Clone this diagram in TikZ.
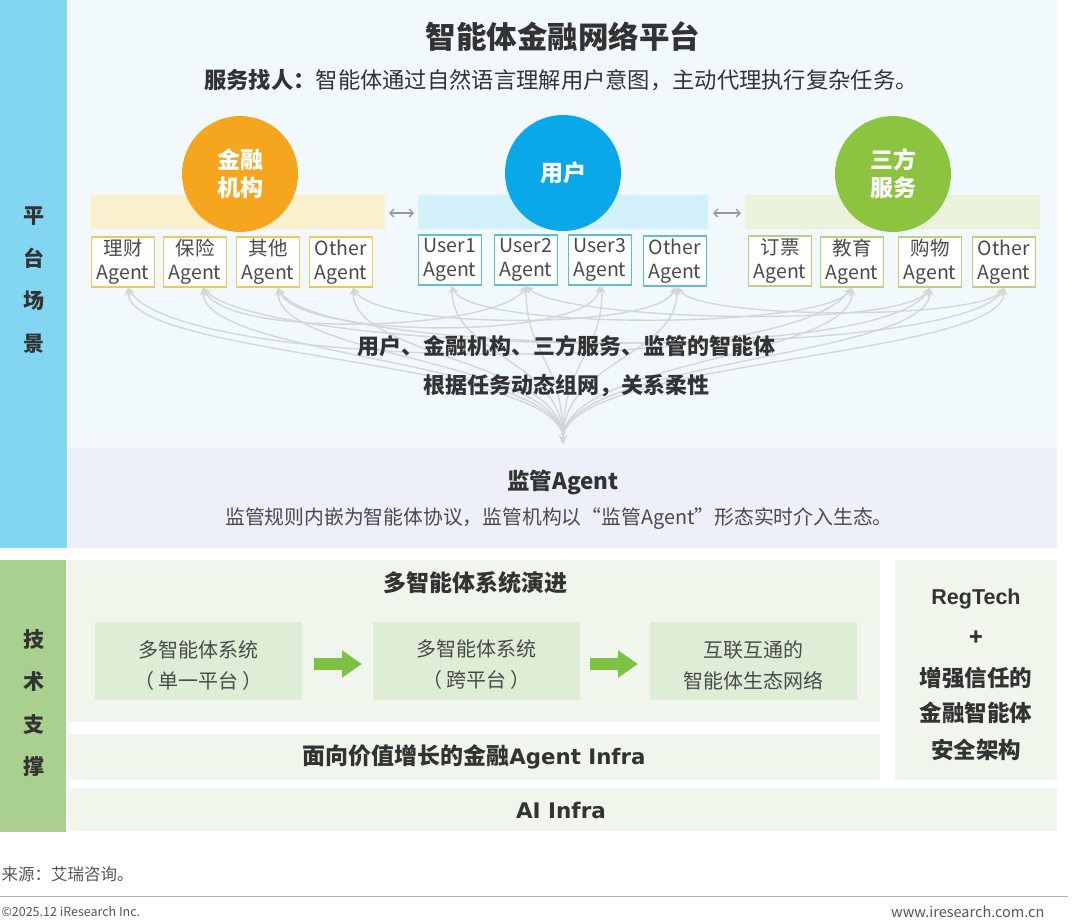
\documentclass[tikz,border=0pt]{standalone}
\usepackage{fontspec}
\setmainfont{Noto Sans CJK SC}
\newfontfamily\dvs{DejaVu Sans}
\newfontfamily\lib{Liberation Sans}
\usetikzlibrary{arrows.meta}
\definecolor{sideblue}{HTML}{82D6F2}
\definecolor{platbg}{HTML}{F2F9FC}
\definecolor{lavender}{HTML}{EDF0F8}
\definecolor{sidegreen}{HTML}{A9D08E}
\definecolor{panelgreen}{HTML}{F0F6EC}
\definecolor{innergreen}{HTML}{DDEDD6}
\definecolor{txtdark}{HTML}{333333}
\definecolor{txtgray}{HTML}{4A4A4A}
\definecolor{corange}{HTML}{F6A61E}
\definecolor{cblue}{HTML}{0AA8E8}
\definecolor{cgreen}{HTML}{8CC43F}
\definecolor{bandorange}{HTML}{FBF1CE}
\definecolor{bandblue}{HTML}{D3F1FB}
\definecolor{bandgreen}{HTML}{EBF2DC}
\definecolor{borange}{HTML}{F0C955}
\definecolor{bblue}{HTML}{5CC0D2}
\definecolor{bgreen}{HTML}{B8D47A}
\definecolor{curvegray}{HTML}{D4D6D8}
\definecolor{arrowgreen}{HTML}{7DC242}
\definecolor{footgray}{HTML}{555555}
\tikzset{
  agentbox/.style={draw, line width=1.3pt, fill=white, minimum width=63pt, minimum height=50pt,
    inner sep=0pt, align=center, text=txtgray, font=\fontsize{19.5}{24}\selectfont},
  circ/.style={circle, minimum size=116pt, inner sep=0pt, text=white, align=center,
    font=\bfseries\fontsize{23}{28}\selectfont},
  flow/.style={draw=curvegray, line width=1.4pt, {Stealth[length=8pt,width=7pt]}-{Stealth[length=8pt,width=7pt]}},
  xarc/.style={draw=curvegray, line width=1.4pt, {Stealth[length=8pt,width=7pt]}-{Stealth[length=8pt,width=7pt]}},
  sidetxt/.style={align=center, text=txtdark, font=\bfseries\fontsize{21}{42.5}\selectfont},
  stagebox/.style={fill=innergreen, minimum width=207pt, minimum height=78pt, inner sep=0pt},
  stagetxt/.style={align=center, text=txtgray, font=\fontsize{20}{31}\selectfont},
  garrow/.style={draw=arrowgreen, line width=12pt, -{Triangle[length=20pt,width=26pt]}},
  darr/.style={draw=gray!80, line width=1.3pt, {Straight Barb[length=4pt]}-{Straight Barb[length=4pt]}},
  bigbold/.style={text=txtdark, font=\bfseries\fontsize{22}{26}\selectfont},
  regtxt/.style={text=txtdark, font=\bfseries\fontsize{22.5}{26}\selectfont},
}
\begin{document}
\begin{tikzpicture}[x=1pt,y=-1pt]
\useasboundingbox (0,0) rectangle (1080,922);
\fill[white] (0,0) rectangle (1080,922);
% platform background
\fill[sideblue] (0,0) rectangle (67,548);
\fill[platbg] (68,0) rectangle (1057,448);
\fill[lavender] (68,448) rectangle (1057,548);
% tech support backgrounds
\fill[sidegreen] (0,560) rectangle (66,832);
\fill[panelgreen] (68,560) rectangle (880,722);
\fill[panelgreen] (68,734) rectangle (880,780);
\fill[panelgreen] (895,560) rectangle (1057,780);
\fill[panelgreen] (68,788) rectangle (1057,831);

\node[sidetxt] (side1) at (34,280) {平\\台\\场\\景};
\node[sidetxt] (side2) at (34,703) {技\\术\\支\\撑};

% titles
\node[text=txtdark, font=\bfseries\fontsize{30.5}{34}\selectfont] (title) at (563,37) {智能体金融网络平台};
\node[text=txtdark, font=\fontsize{22.3}{26}\selectfont] (subtitle) at (561,80) {\textbf{服务找人：}智能体通过自然语言理解用户意图，主动代理执行复杂任务。};

% bands
\fill[bandorange] (90,195) rectangle (385,229);
\fill[bandblue] (418,195) rectangle (708,229);
\fill[bandgreen] (745,195) rectangle (1040,229);

\node[circ, fill=corange] (fin) at (240,174) {金融\\机构};
\node[circ, fill=cblue] (user) at (563,173) {用户};
\node[circ, fill=cgreen] (third) at (893,174) {三方\\服务};

\coordinate (da1) at (389,213);
\coordinate (db1) at (414,213);
\coordinate (da2) at (713,213);
\coordinate (db2) at (741,213);
\draw[darr] (da1) -- (db1);
\draw[darr] (da2) -- (db2);

% agent boxes
\node[agentbox, draw=borange] (a1) at (123,262) {理财\\Agent};
\node[agentbox, draw=borange] (a2) at (195,262) {保险\\Agent};
\node[agentbox, draw=borange] (a3) at (268,262) {其他\\Agent};
\node[agentbox, draw=borange] (a4) at (341,262) {Other\\Agent};
\node[agentbox, draw=bblue] (u1) at (450,260) {User1\\Agent};
\node[agentbox, draw=bblue] (u2) at (526,260) {User2\\Agent};
\node[agentbox, draw=bblue] (u3) at (600,260) {User3\\Agent};
\node[agentbox, draw=bblue] (u4) at (675,261) {Other\\Agent};
\node[agentbox, draw=bgreen] (s1) at (780,261) {订票\\Agent};
\node[agentbox, draw=bgreen] (s2) at (852,262) {教育\\Agent};
\node[agentbox, draw=bgreen] (s3) at (930,262) {购物\\Agent};
\node[agentbox, draw=bgreen] (s4) at (1004,262) {Other\\Agent};

% curves
\coordinate (hub) at (563,444);
\foreach \b/\dx in {a1/5,a2/8,a3/10,a4/12,u1/2,u2/0,u3/2,u4/2,s2/0,s3/0,s4/0}{
  \draw[flow] ([xshift=\dx pt]\b.south) .. controls ([xshift=\dx pt,yshift=-70pt]\b.south) and (563,360) .. (hub);
}
\draw[xarc] ([xshift=5pt]a1.south) .. controls (180,370) and (780,380) .. (s2.south);
\draw[xarc] ([xshift=8pt]a2.south) .. controls (230,340) and (500,330) .. (u2.south);
\draw[xarc] ([xshift=8pt]a2.south) .. controls (260,350) and (880,370) .. (s3.south);
\draw[xarc] ([xshift=10pt]a3.south) .. controls (300,340) and (590,340) .. (u3.south);
\draw[xarc] ([xshift=10pt]a3.south) .. controls (320,360) and (960,360) .. (s4.south);
\draw[xarc] ([xshift=12pt]a4.south) .. controls (380,330) and (660,330) .. (u4.south);
\draw[xarc] ([xshift=2pt]u1.south) .. controls (470,330) and (820,330) .. (s2.south);
\draw[xarc] (u2.south) .. controls (560,320) and (900,330) .. (s3.south);
\draw[xarc] ([xshift=2pt]u4.south) .. controls (700,320) and (980,320) .. (s4.south);

\node[bigbold] (net1) at (566,346) {用户、金融机构、三方服务、监管的智能体};
\node[bigbold] (net2) at (566,386) {根据任务动态组网，关系柔性};

% supervision
\node[text=txtdark, font=\bfseries\fontsize{22.5}{26}\selectfont] (sup) at (563,482) {监管Agent};
\node[text=txtgray, font=\fontsize{19.8}{24}\selectfont] (supdesc) at (559,519) {监管规则内嵌为智能体协议，监管机构以“监管Agent”形态实时介入生态。};

% multi-agent evolution
\node[text=txtdark, font=\bfseries\fontsize{23}{26}\selectfont] (evo) at (475,583) {多智能体系统演进};
\node[stagebox] (st1) at (198.5,661) {};
\node[stagebox] (st2) at (476.5,661) {};
\node[stagebox] (st3) at (753.5,661) {};
\node[stagetxt] (st1t) at (198.5,666) {多智能体系统\\（ 单一平台 ）};
\node[stagetxt] (st2t) at (476.5,665) {多智能体系统\\（ 跨平台 ）};
\node[stagetxt] (st3t) at (753.5,665) {互联互通的\\智能体生态网络};
\coordinate (g1a) at (314,664);
\coordinate (g1b) at (362,664);
\coordinate (g2a) at (590,664);
\coordinate (g2b) at (638,664);
\draw[garrow] (g1a) -- (g1b);
\draw[garrow] (g2a) -- (g2b);

\node[text=txtdark, font=\bfseries\fontsize{23}{26}\selectfont] (infra) at (474,757) {面向价值增长的金融{\dvs\fontsize{21.3}{26}\selectfont Agent Infra}};
\node[text=txtdark, font=\dvs\bfseries\fontsize{21.5}{26}\selectfont] (aiinfra) at (561,810) {AI Infra};
\node[regtxt, font=\lib\bfseries\fontsize{21.5}{26}\selectfont] (reg1) at (976,599) {RegTech};
\node[regtxt] (reg2) at (976,638) {+};
\node[regtxt] (reg3) at (976,678) {增强信任的};
\node[regtxt] (reg4) at (976,713) {金融智能体};
\node[regtxt] (reg5) at (976,750) {安全架构};

% footer
\node[anchor=west, text=footgray, font=\fontsize{16.5}{18}\selectfont] (src) at (-2,874) {来源：艾瑞咨询。};
\coordinate (fl) at (0,896);
\coordinate (fr) at (1068,896);
\draw[gray!60, line width=1pt] (fl) -- (fr);
\node[anchor=west, text=footgray, font=\fontsize{12.5}{16}\selectfont] (copy) at (-2,912) {©2025.12 iResearch Inc.};
\node[anchor=east, text=footgray, font=\fontsize{14.5}{16}\selectfont] (web) at (1048,912) {www.iresearch.com.cn};
\end{tikzpicture}
\end{document}
